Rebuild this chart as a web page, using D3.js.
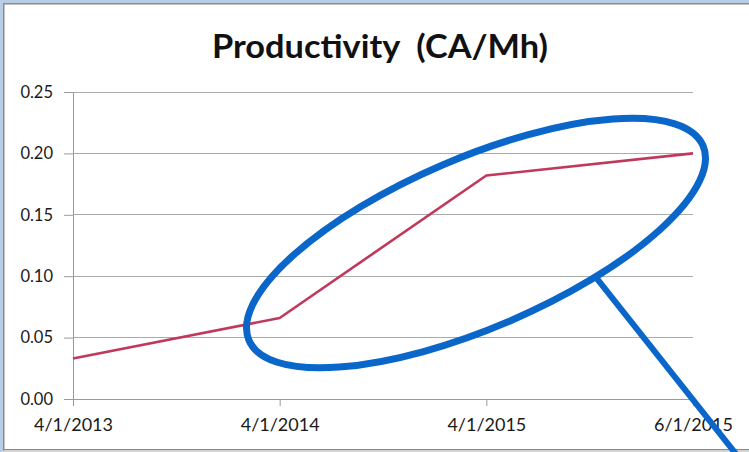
<!DOCTYPE html>
<html>
<head>
<meta charset="utf-8">
<script src="https://cdn.jsdelivr.net/npm/d3@7"></script>
<style>
  html, body { margin: 0; padding: 0; background: #fff; }
  svg { display: block; }
</style>
</head>
<body>
<svg id="chart" width="749" height="452"></svg>
<script>
// ---- data ----
const categories = ["4/1/2013", "4/1/2014", "4/1/2015", "6/1/2015"];
const productivity = [0.033, 0.066, 0.182, 0.200];
const yTicks = [0.00, 0.05, 0.10, 0.15, 0.20, 0.25];
const title = "Productivity  (CA/Mh)";
// annotation (in data terms: category index, value)
const highlightCenter = [1.95, 0.127];

(function () {
const W = 749, H = 452;
const svg = d3.select("#chart");

// frame
svg.append("rect").attr("x", 0).attr("y", 0).attr("width", W).attr("height", H).attr("fill", "#fff");
svg.append("rect").attr("x", 0).attr("y", 0).attr("width", 3).attr("height", H).attr("fill", "#b9cde5");
svg.append("rect").attr("x", 0).attr("y", 0).attr("width", W).attr("height", 3).attr("fill", "#b9cde5");
svg.append("rect").attr("x", 3).attr("y", 3).attr("width", 1.5).attr("height", H).attr("fill", "#8a8a8a");
svg.append("rect").attr("x", 3).attr("y", 3).attr("width", W).attr("height", 1.5).attr("fill", "#8a8a8a");
svg.append("rect").attr("x", 3).attr("y", 449).attr("width", W).attr("height", 1.5).attr("fill", "#8a8a8a");
svg.append("rect").attr("x", 3).attr("y", 450.5).attr("width", W).attr("height", 2).attr("fill", "#d9d9d9");

const pl = 73, pr = 693, pt = 92, pb = 399;

const x = d3.scalePoint().domain(categories).range([pl, pr]);
const xi = d3.scaleLinear().domain([0, categories.length - 1]).range([pl, pr]);
const y = d3.scaleLinear().domain([0, 0.25]).range([pb, pt]);

// gridlines
svg.append("g").selectAll("line").data(yTicks.filter(d => d > 0)).join("line")
  .attr("x1", pl).attr("x2", pr)
  .attr("y1", d => y(d)).attr("y2", d => y(d))
  .attr("stroke", "#ababab").attr("stroke-width", 1).attr("shape-rendering", "crispEdges");

// y axis
const yAxis = svg.append("g").attr("transform", `translate(${pl},0)`)
  .call(d3.axisLeft(y).tickValues(yTicks).tickFormat(d3.format(".2f")).tickSizeInner(9).tickSizeOuter(0).tickPadding(11));
yAxis.select(".domain").attr("stroke", "#9a9a9a");
yAxis.selectAll(".tick line").attr("stroke", "#9a9a9a");
yAxis.selectAll("text").attr("font-family", "Lato, 'Open Sans', sans-serif").attr("font-size", 16.5).attr("fill", "#1a1a1a");

// x axis
const xAxis = svg.append("g").attr("transform", `translate(0,${pb})`)
  .call(d3.axisBottom(x).tickSizeInner(7).tickSizeOuter(0).tickPadding(12));
xAxis.select(".domain").attr("stroke", "#9a9a9a");
xAxis.selectAll(".tick line").attr("stroke", "#9a9a9a");
xAxis.selectAll("text").attr("font-family", "Lato, 'Open Sans', sans-serif").attr("font-size", 18).attr("fill", "#1a1a1a");

// line
const line = d3.line().x((d, i) => x(categories[i])).y(d => y(d));
svg.append("path").datum(productivity)
  .attr("d", line).attr("fill", "none")
  .attr("stroke", "#c0395b").attr("stroke-width", 2.6).attr("stroke-linejoin", "round");

// title
svg.append("text").attr("x", 380).attr("y", 58).attr("text-anchor", "middle")
  .attr("font-family", "Lato, 'Open Sans', sans-serif").attr("font-weight", "bold")
  .attr("font-size", 32).attr("fill", "#111")
  .style("white-space", "pre").attr("xml:space", "preserve")
  .attr("textLength", 336).attr("lengthAdjust", "spacingAndGlyphs")
  .text(title);

// annotation ellipse + callout
const cx = xi(highlightCenter[0]), cy = y(highlightCenter[1]);
const rx = 247, ry = 85, ang = -23.2;
const blue = "#0a66c8";
const g = svg.append("g").attr("transform", `translate(${cx},${cy}) rotate(${ang})`);
g.append("ellipse").attr("cx", 0).attr("cy", 0).attr("rx", rx).attr("ry", ry)
  .attr("fill", "none").attr("stroke", blue).attr("stroke-width", 7);
const t = 67 * Math.PI / 180;
const u = rx * Math.cos(t), v = ry * Math.sin(t);
const a = ang * Math.PI / 180;
const px = cx + u * Math.cos(a) - v * Math.sin(a);
const py = cy + u * Math.sin(a) + v * Math.cos(a);
const slope = 96 / 121;
const ey = H + 10;
svg.append("line").attr("x1", px).attr("y1", py)
  .attr("x2", px + (ey - py) * slope).attr("y2", ey)
  .attr("stroke", blue).attr("stroke-width", 6);
})();
</script>
</body>
</html>
